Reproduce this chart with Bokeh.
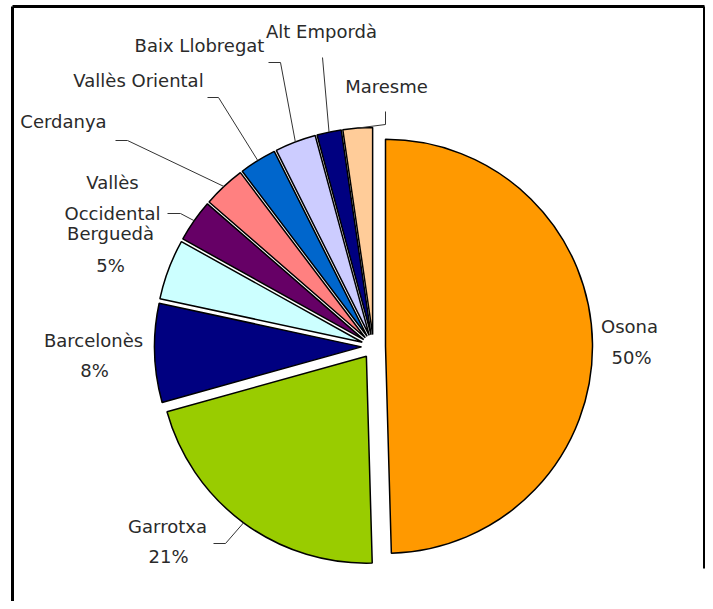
import math
from bokeh.plotting import figure
from bokeh.models import Range1d, ColumnDataSource
from bokeh.embed import file_html
from bokeh.resources import INLINE
from bokeh.core.properties import value

# ---------------- data ----------------
comarques = ["Osona", "Garrotxa", "Barcelonès", "Berguedà", "Vallès Occidental",
             "Cerdanya", "Vallès Oriental", "Baix Llobregat", "Alt Empordà", "Maresme"]
shares = [49.5, 21.1, 7.7, 4.7, 3.3, 3.3, 2.9, 3.2, 1.9, 2.3]
colors = ["#FF9900", "#99CC00", "#000080", "#CCFFFF", "#660066",
          "#FF8080", "#0066CC", "#CCCCFF", "#000080", "#FFCC99"]
show_pct = [True, True, True, True, False, False, False, False, False, False]

# ---------------- layout (pixels of the 713x609 reference) ----------------
W, H = 705, 601
CX, CY = 373, 346          # pie centre
R = 207                    # radius
EXPLODE = 12               # explosion distance
FONT = "DejaVu Sans"
FS = "18px"
TXT = "#2a2a2a"
TXT_SHIFT = -7             # vertical adjustment of label baselines

# label lines: list of (text, x, baseline_y)
label_pos = {
    "Osona": [("Osona", 629, 333), ("{p}", 631, 364)],
    "Garrotxa": [("Garrotxa", 167, 533), ("{p}", 168, 563)],
    "Barcelonès": [("Barcelonès", 93, 347), ("{p}", 94, 377)],
    "Berguedà": [("Berguedà", 110, 240), ("{p}", 110, 272)],
    "Vallès Occidental": [("Vallès", 112, 189), ("Occidental", 112, 220)],
    "Cerdanya": [("Cerdanya", 63, 128)],
    "Vallès Oriental": [("Vallès Oriental", 138, 87)],
    "Baix Llobregat": [("Baix Llobregat", 199, 52)],
    "Alt Empordà": [("Alt Empordà", 321, 38)],
    "Maresme": [("Maresme", 386, 93)],
}
# leader lines: start and elbow; end computed on the slice arc
leaders = {
    "Maresme": [(385, 111), (385, 124)],
    "Alt Empordà": [(322, 57), (322, 57)],
    "Baix Llobregat": [(268, 62), (280, 62)],
    "Vallès Oriental": [(207, 97), (218, 97)],
    "Cerdanya": [(115, 140), (127, 140)],
    "Vallès Occidental": [(167, 213), (180, 213)],
    "Garrotxa": [(213, 543), (225, 543)],
}


def yd(y_screen):
    return H - y_screen


p = figure(width=W, height=H, output_backend="svg", toolbar_location=None,
           x_range=Range1d(0, W), y_range=Range1d(0, H),
           min_border=0, tools="")
p.axis.visible = False
p.grid.visible = False
p.outline_line_color = None
p.background_fill_color = "white"
p.border_fill_color = "white"

total = sum(shares)
cx, cy = CX, yd(CY)

xs, ys, starts, ends, mids = [], [], [], [], []
cum = 0.0
for s in shares:
    t1 = 360.0 * cum / total
    cum += s
    t2 = 360.0 * cum / total
    mid = math.radians((t1 + t2) / 2)
    mids.append(mid)
    xs.append(cx + EXPLODE * math.sin(mid))
    ys.append(cy + EXPLODE * math.cos(mid))
    starts.append(math.radians(90 - t2))
    ends.append(math.radians(90 - t1))

src = ColumnDataSource(dict(x=xs, y=ys, start=starts, end=ends, color=colors, name=comarques))
p.wedge(x="x", y="y", radius=R, start_angle="start", end_angle="end",
        fill_color="color", line_color="black", line_width=1.5, source=src)

# leader lines
for i, name in enumerate(comarques):
    if name in leaders:
        (sx, sy), (ex, ey) = leaders[name]
        m = mids[i]
        px = cx + (EXPLODE + R) * math.sin(m)
        py = cy + (EXPLODE + R) * math.cos(m)
        p.line([sx, ex, px], [yd(sy), yd(ey), py], line_color="#333333", line_width=1)

# labels
tx, ty, tt = [], [], []
for i, name in enumerate(comarques):
    pct = "%d%%" % round(shares[i] / total * 100)
    for (t, x, y) in label_pos[name]:
        if t == "{p}":
            if not show_pct[i]:
                continue
            t = pct
        tx.append(x)
        ty.append(yd(y + TXT_SHIFT))
        tt.append(t)
p.text(x=tx, y=ty, text=tt, text_align="center", text_baseline="alphabetic",
       text_font=value(FONT), text_font_size=FS, text_color=TXT)

# chart frame
p.line([12, 12], [yd(H + 2), yd(6)], line_color="black", line_width=3)
p.line([12, 704], [yd(6), yd(6)], line_color="black", line_width=3)
p.line([704, 704], [yd(6), yd(568)], line_color="black", line_width=3)

open("out.html", "w").write(file_html(p, INLINE))
